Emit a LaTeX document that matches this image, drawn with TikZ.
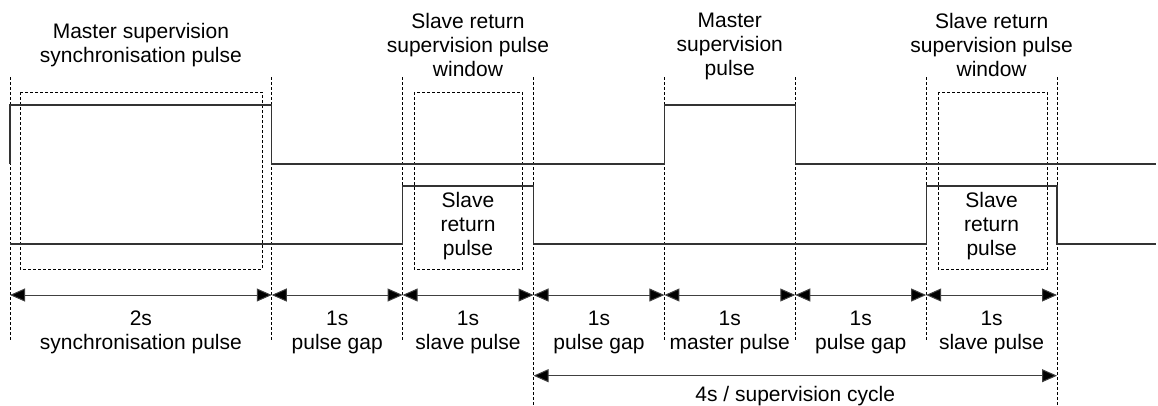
\documentclass[tikz,border=0pt]{standalone}
\usepackage{fontspec}
\setmainfont{Liberation Sans}
\usetikzlibrary{arrows.meta}
\begin{document}
\begin{tikzpicture}[x=1pt,y=-1pt,
  lbl/.style={align=center,inner sep=0pt,anchor=north,font=\fontsize{21}{24}\selectfont},
  guide/.style={draw=black,line width=0.8pt,dash pattern=on 3pt off 2pt},
  win/.style={draw=black,line width=0.9pt,dash pattern=on 3pt off 2pt},
  sig/.style={draw=black!80,line width=1.2pt},
  dim/.style={draw=black!75,line width=1pt,{Triangle[length=15pt,width=13pt,fill=black]}-{Triangle[length=15pt,width=13pt,fill=black]}}
]
\useasboundingbox (0,0) rectangle (1158,405);
% time marks
\foreach \i/\x in {0/10,1/140.875,2/271.75,3/402.625,4/533.5,5/664.375,6/795.25,7/926.125,8/1057}{
  \coordinate (g\i) at (\x,77);
  \coordinate (a\i) at (\x,295);
  \coordinate (b\i) at (\x,375.7);
}
% guide lines
\foreach \i in {0,2,3,5,6,7}{ \draw[guide] (g\i) -- ++(0,263); }
\foreach \i in {4,8}{ \draw[guide] (g\i) -- ++(0,328); }
% windows
\draw[win] (20,92) rectangle (262,269);
\draw[win] (414,92) rectangle (522.5,269);
\draw[win] (938,92) rectangle (1047,269);
% signals
\draw[sig] (10,164) -- (10,105) -- (271.75,105) -- (271.75,164) -- (664.375,164) -- (664.375,105) -- (795.25,105) -- (795.25,164) -- (1156,164);
\draw[sig] (10,244) -- (402.625,244) -- (402.625,186) -- (533.5,186) -- (533.5,244) -- (926.125,244) -- (926.125,186) -- (1057,186) -- (1057,244) -- (1156,244);
% top labels
\node[lbl] (t1) at (140.875,23) {Master supervision\\synchronisation pulse};
\node[lbl] (t2) at (468,12.7) {Slave return\\supervision pulse\\window};
\node[lbl] (t3) at (729.8,12.7) {Master\\supervision\\pulse};
\node[lbl] (t4) at (991.6,12.7) {Slave return\\supervision pulse\\window};
% inner labels
\node[lbl] (s1) at (468,191.7) {Slave\\return\\pulse};
\node[lbl] (s2) at (991.6,191.7) {Slave\\return\\pulse};
% dimension arrows
\draw[dim] (a0) -- (a2);
\draw[dim] (a2) -- (a3);
\draw[dim] (a3) -- (a4);
\draw[dim] (a4) -- (a5);
\draw[dim] (a5) -- (a6);
\draw[dim] (a6) -- (a7);
\draw[dim] (a7) -- (a8);
\draw[dim] (b4) -- (b8);
% bottom labels
\node[lbl] (d1) at (140.875,311) {2s\\synchronisation pulse};
\node[lbl] (d2) at (337.2,311) {1s\\pulse gap};
\node[lbl] (d3) at (468,311) {1s\\slave pulse};
\node[lbl] (d4) at (599,311) {1s\\pulse gap};
\node[lbl] (d5) at (729.8,311) {1s\\master pulse};
\node[lbl] (d6) at (860.7,311) {1s\\pulse gap};
\node[lbl] (d7) at (991.6,311) {1s\\slave pulse};
\node[lbl] (d8) at (795.25,386) {4s / supervision cycle};
\end{tikzpicture}
\end{document}
